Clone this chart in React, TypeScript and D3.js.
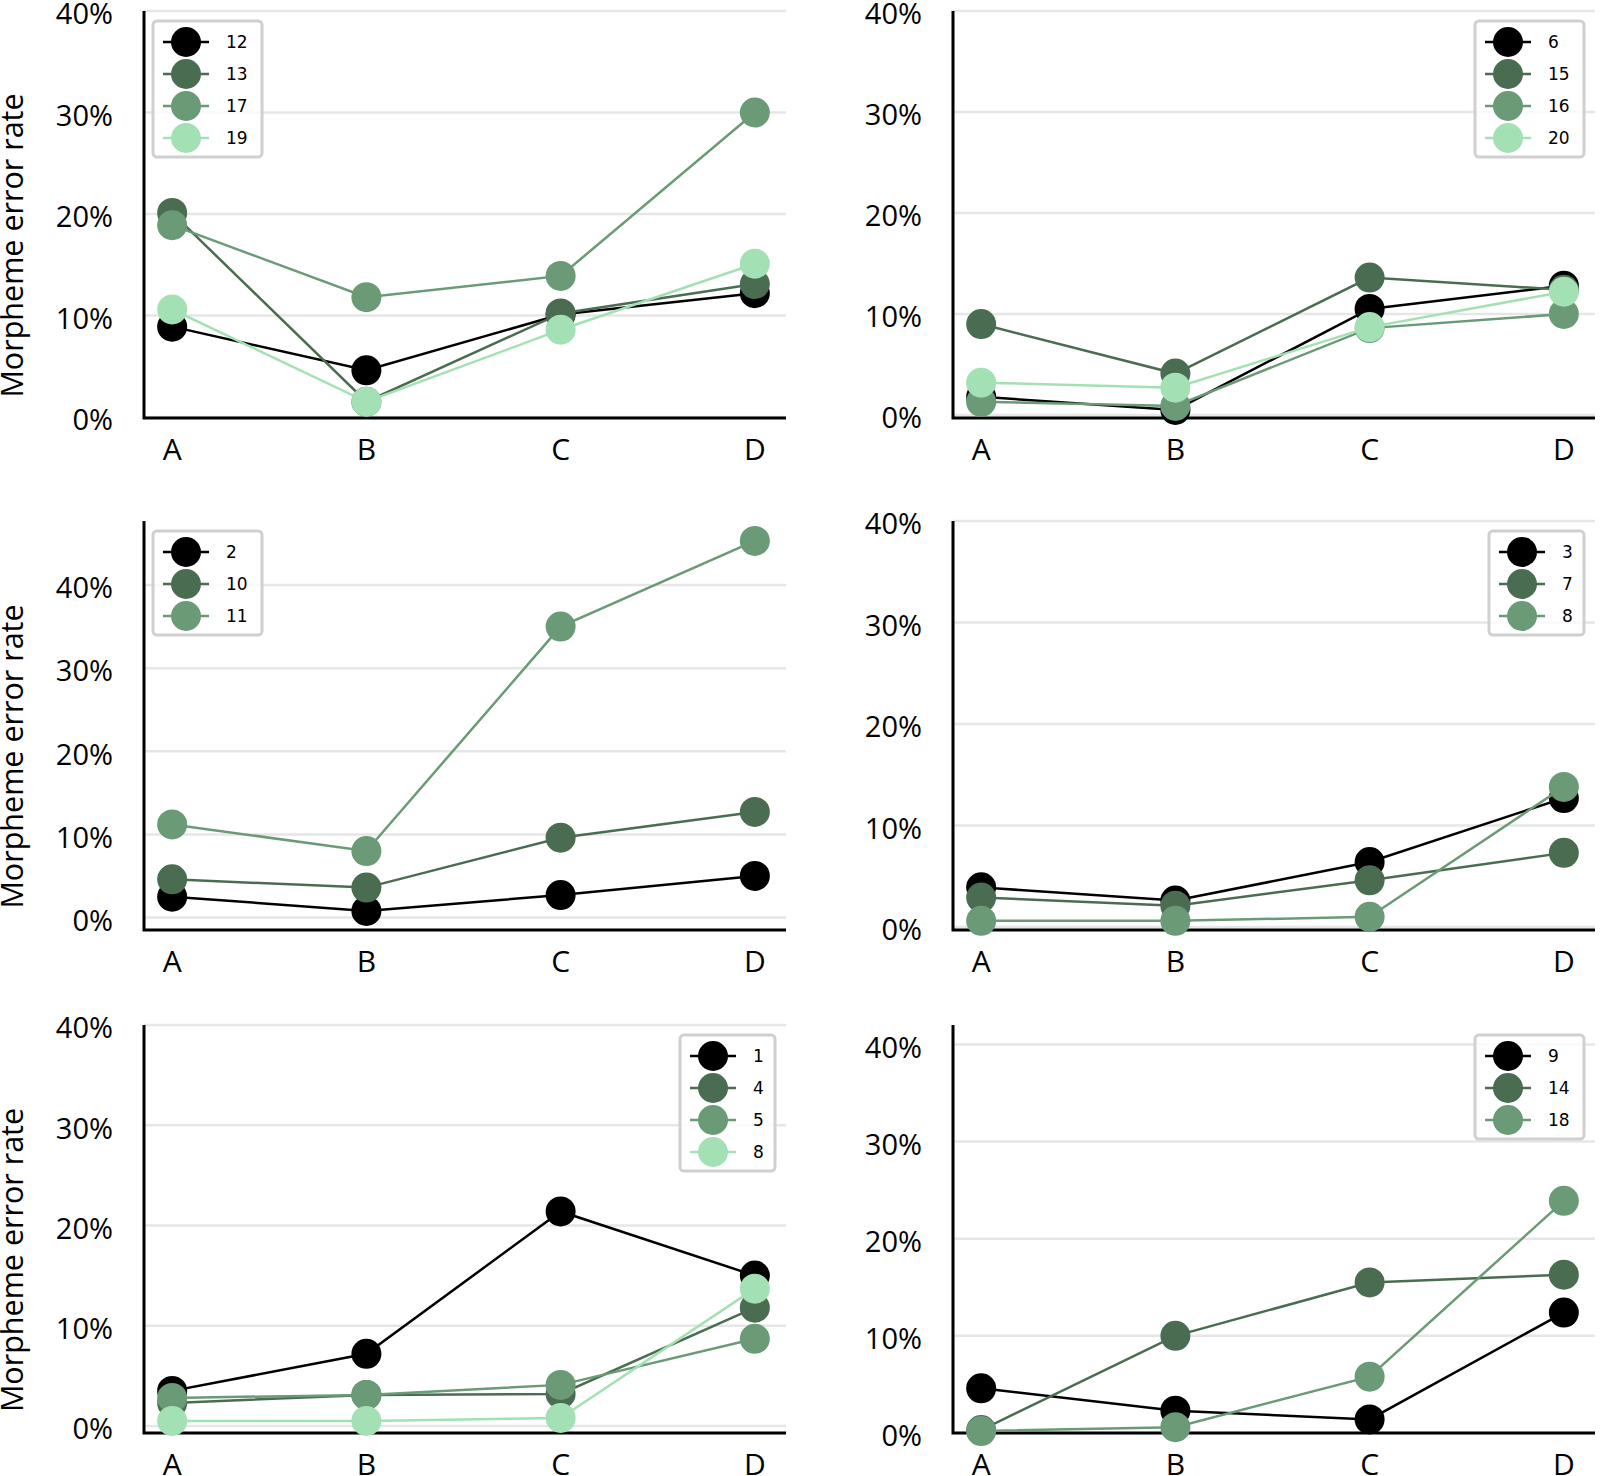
import React from "react";
import * as d3 from "d3";

const categories = ["A", "B", "C", "D"];
const seriesColors = ["#000000", "#4a6d51", "#6a9a76", "#a3e1b4"];
const yTickValues = [0, 0.1, 0.2, 0.3, 0.4];
const yAxisTitle = "Morpheme error rate";

const panel1Labels = ["12", "13", "17", "19"];
const panel1Values = [
  [0.089, 0.046, 0.101, 0.122],
  [0.201, 0.015, 0.102, 0.131],
  [0.189, 0.118, 0.139, 0.3],
  [0.106, 0.015, 0.086, 0.151],
];

const panel2Labels = ["6", "15", "16", "20"];
const panel2Values = [
  [0.018, 0.005, 0.105, 0.128],
  [0.09, 0.041, 0.136, 0.124],
  [0.013, 0.009, 0.086, 0.1],
  [0.032, 0.027, 0.087, 0.122],
];

const panel3Labels = ["2", "10", "11"];
const panel3Values = [
  [0.025, 0.008, 0.027, 0.05],
  [0.046, 0.036, 0.096, 0.127],
  [0.112, 0.08, 0.35, 0.453],
];

const panel4Labels = ["3", "7", "8"];
const panel4Values = [
  [0.039, 0.026, 0.064, 0.127],
  [0.029, 0.021, 0.046, 0.073],
  [0.006, 0.006, 0.01, 0.138],
];

const panel5Labels = ["1", "4", "5", "8"];
const panel5Values = [
  [0.035, 0.072, 0.214, 0.15],
  [0.023, 0.031, 0.032, 0.118],
  [0.028, 0.031, 0.041, 0.087],
  [0.005, 0.005, 0.008, 0.137],
];

const panel6Labels = ["9", "14", "18"];
const panel6Values = [
  [0.046, 0.023, 0.014, 0.124],
  [0.003, 0.1, 0.155, 0.163],
  [0.002, 0.006, 0.058, 0.239],
];

const panelYDomains = [
  [-0.001, 0.4],
  [-0.003, 0.4],
  [-0.015, 0.477],
  [-0.003, 0.4],
  [-0.007, 0.4],
  [0, 0.42],
];

type Layout = {
  left: number;
  right: number;
  top: number;
  bottom: number;
  legend: "ul" | "ur";
  title: boolean;
};

const layouts: Layout[] = [
  { left: 144, right: 786, top: 11, bottom: 418, legend: "ul", title: true },
  { left: 953, right: 1595, top: 11, bottom: 418, legend: "ur", title: false },
  { left: 144, right: 786, top: 521, bottom: 930, legend: "ul", title: true },
  { left: 953, right: 1595, top: 521, bottom: 930, legend: "ur", title: false },
  { left: 144, right: 786, top: 1025, bottom: 1433, legend: "ur", title: true },
  { left: 953, right: 1595, top: 1025, bottom: 1433, legend: "ur", title: false },
];

const panelData = [
  { labels: panel1Labels, values: panel1Values },
  { labels: panel2Labels, values: panel2Values },
  { labels: panel3Labels, values: panel3Values },
  { labels: panel4Labels, values: panel4Values },
  { labels: panel5Labels, values: panel5Values },
  { labels: panel6Labels, values: panel6Values },
];

const TICK_FONT = "'Open Sans', 'Noto Sans', sans-serif";
const LEGEND_FONT = "'DejaVu Sans', sans-serif";
const pctFmt = d3.format(".0%");

function Panel({ layout, labels, values, domain }: { layout: Layout; labels: string[]; values: number[][]; domain: number[] }) {
  const x = d3.scalePoint<string>().domain(categories).range([layout.left, layout.right - 3]).padding(0.145);
  const y = d3.scaleLinear().domain(domain).range([layout.bottom, layout.top]);
  const line = d3
    .line<number>()
    .x((_, i) => x(categories[i]) as number)
    .y((d) => y(d));

  const maxLen = d3.max(labels, (l) => l.length) || 1;
  const legW = maxLen > 1 ? 109 : 95;
  const legH = 21 + (labels.length - 1) * 32 + 19;
  const legX = layout.legend === "ul" ? layout.left + 9 : layout.right - 11 - legW;
  const legY = layout.top + 10;

  return (
    <g>
      {yTickValues.map((t) => (
        <line key={"g" + t} x1={layout.left} x2={layout.right} y1={y(t)} y2={y(t)} stroke="#e6e6e6" strokeWidth={2.5} />
      ))}
      {yTickValues.map((t) => (
        <text
          key={"t" + t}
          x={layout.left - 31}
          y={y(t) + 13.3}
          textAnchor="end"
          fontFamily={TICK_FONT}
          fontSize={29}
          fill="#000"
        >
          {pctFmt(t)}
        </text>
      ))}
      {categories.map((c) => (
        <text
          key={"x" + c}
          x={x(c)}
          y={layout.bottom + 42}
          textAnchor="middle"
          fontFamily={TICK_FONT}
          fontSize={30}
          fill="#000"
        >
          {c}
        </text>
      ))}
      <path
        d={`M${layout.left},${layout.top}V${layout.bottom}H${layout.right}`}
        fill="none"
        stroke="#000"
        strokeWidth={3}
      />
      {layout.title && (
        <text
          transform={`translate(23,${(layout.top + layout.bottom) / 2 + 31}) rotate(-90)`}
          textAnchor="middle"
          fontFamily={TICK_FONT}
          fontSize={30.5}
          fill="#000"
        >
          {yAxisTitle}
        </text>
      )}
      {values.map((s, si) => (
        <g key={"s" + si}>
          <path d={line(s) || ""} fill="none" stroke={seriesColors[si]} strokeWidth={2.5} />
          {s.map((v, i) => (
            <circle key={i} cx={x(categories[i])} cy={y(v)} r={15} fill={seriesColors[si]} />
          ))}
        </g>
      ))}
      <rect
        x={legX}
        y={legY}
        width={legW}
        height={legH}
        rx={4}
        fill="#fff"
        fillOpacity={0.8}
        stroke="#d0d0d0"
        strokeWidth={3}
      />
      {labels.map((l, i) => {
        const cy = legY + 21 + i * 32;
        const cx = legX + 33;
        return (
          <g key={"l" + l + i}>
            <line x1={cx - 23} x2={cx + 23} y1={cy} y2={cy} stroke={seriesColors[i]} strokeWidth={2.5} />
            <circle cx={cx} cy={cy} r={15} fill={seriesColors[i]} />
            <text x={cx + 40} y={cy} dominantBaseline="central" fontFamily={LEGEND_FONT} fontSize={17} fill="#000">
              {l}
            </text>
          </g>
        );
      })}
    </g>
  );
}

export default function App() {
  return (
    <svg
      width={1600}
      height={1476}
      viewBox="0 0 1600 1476"
      style={{ position: "absolute", left: 0, top: 0, background: "#fff" }}
    >
      <rect x={0} y={0} width={1600} height={1476} fill="#fff" />
      {layouts.map((lay, i) => (
        <Panel key={i} layout={lay} labels={panelData[i].labels} values={panelData[i].values} domain={panelYDomains[i]} />
      ))}
    </svg>
  );
}
